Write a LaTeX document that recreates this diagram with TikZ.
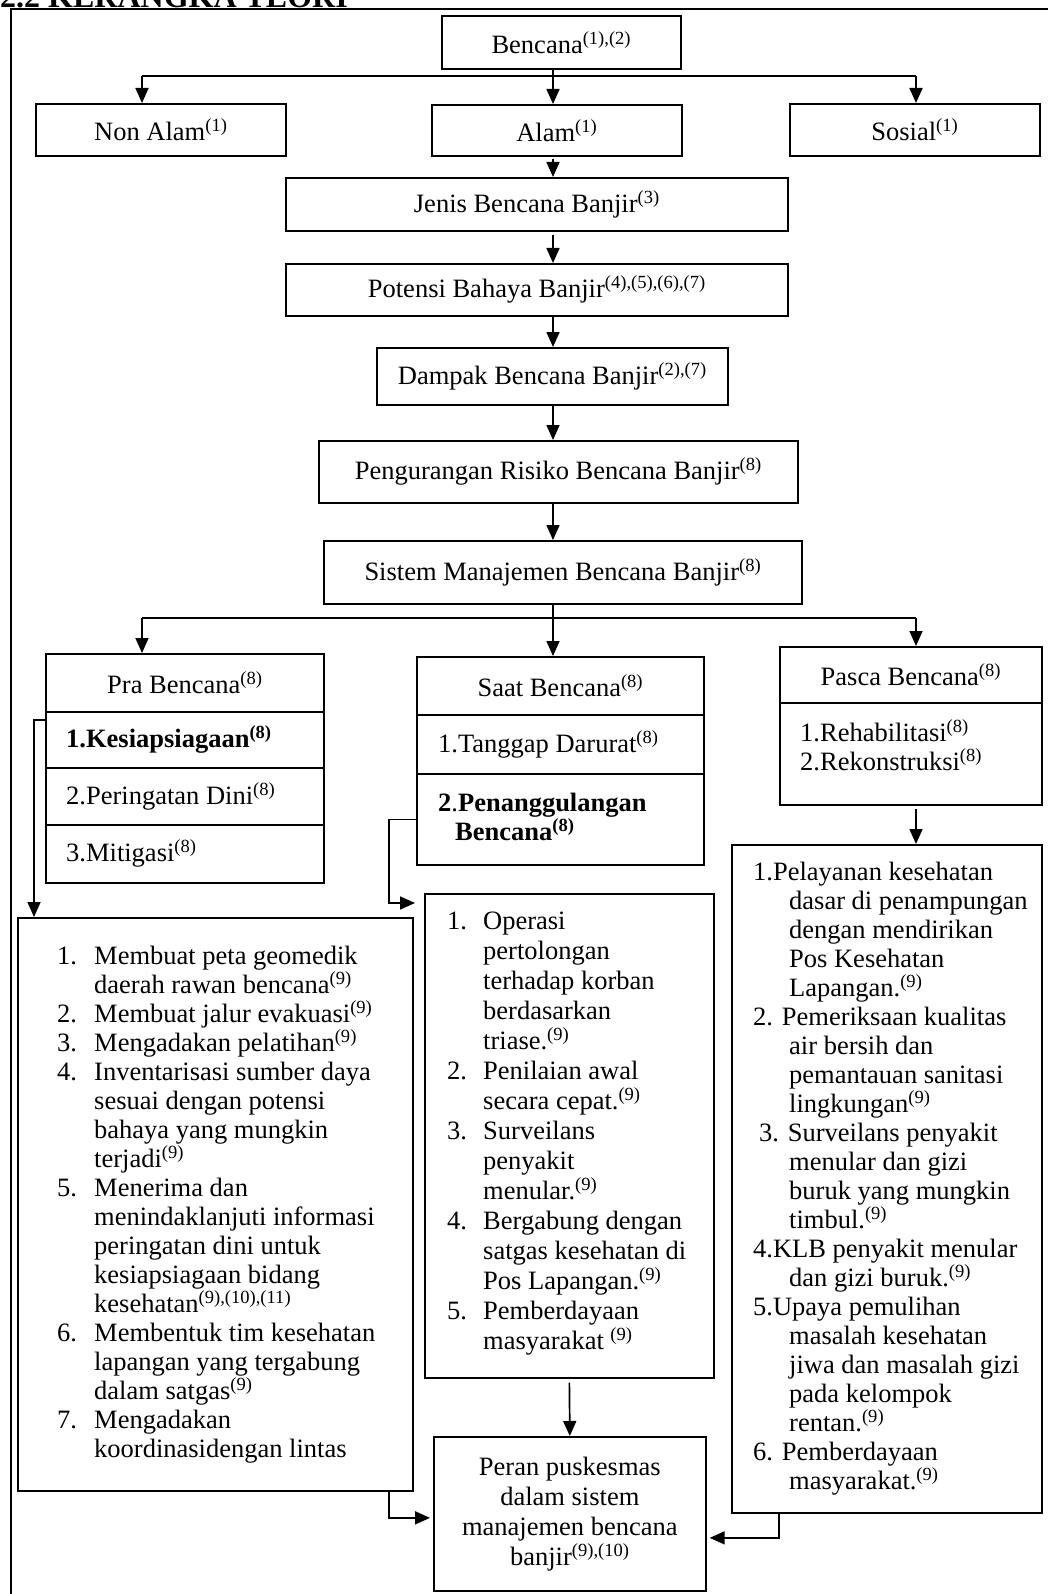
\documentclass[tikz,border=0pt]{standalone}
\usepackage{fontspec}
\setmainfont{Liberation Serif}
\usetikzlibrary{arrows.meta,calc}
\newcommand\fz{\fontsize{26.5}{29}\selectfont}
\newcommand\rf[1]{\textsuperscript{#1}}
\newcommand\lstno[1]{\makebox[37pt][l]{#1}}
\newcommand\lstin{\hspace*{37pt}}
\newcommand\rno[1]{\makebox[36pt][l]{#1}}
\newcommand\rin{\hspace*{36pt}}
\begin{document}
\begin{tikzpicture}[x=1pt,y=-1pt,
  box/.style={draw, line width=1.7pt, inner sep=0pt, anchor=north west, font=\fz, align=center},
  txt/.style={anchor=west, inner sep=0pt, font=\fz, align=left},
  conn/.style={line width=1.7pt},
  arr/.style={conn, -{Triangle[length=15pt,width=13pt]}},
]
\useasboundingbox (0,0) rectangle (1048,1594);
\fill[white] (0,0) rectangle (1048,1594);

% title and frame
\node[anchor=base west, inner sep=0pt, font=\bfseries\fontsize{32}{36}\selectfont] (title) at (0,8) {2.2 KERANGKA TEORI};
\draw[line width=1.7pt] (11,1600) -- (11,9) -- (1060,9);

% top chain
\node[box, minimum width=239pt, minimum height=53pt] (bencana) at (441,15) {Bencana\rf{(1),(2)}};
\node[box, minimum width=250pt, minimum height=52pt] (nonalam) at (35,103) {Non Alam\rf{(1)}};
\node[box, minimum width=250pt, minimum height=51pt] (alam) at (431,104) {Alam\rf{(1)}};
\node[box, minimum width=250pt, minimum height=52pt] (sosial) at (789,103) {Sosial\rf{(1)}};
\node[box, minimum width=502pt, minimum height=53pt] (jenis) at (285,177) {Jenis Bencana Banjir\rf{(3)}};
\node[box, minimum width=502pt, minimum height=52pt] (potensi) at (285,263) {Potensi Bahaya Banjir\rf{(4),(5),(6),(7)}};
\node[box, minimum width=351pt, minimum height=57pt] (dampak) at (376,347) {Dampak Bencana Banjir\rf{(2),(7)}};
\node[box, minimum width=479pt, minimum height=62pt] (pengurangan) at (318,440) {Pengurangan Risiko Bencana Banjir\rf{(8)}};
\node[box, minimum width=478pt, minimum height=63pt] (sistem) at (323,540) {Sistem Manajemen Bencana Banjir\rf{(8)}};

% Pra Bencana
\node[box, minimum width=278pt, minimum height=58pt] (pra0) at (45,653) {Pra Bencana\rf{(8)}};
\node[box, minimum width=278pt, minimum height=56pt] (pra1) at (45,711) {};
\node[box, minimum width=278pt, minimum height=57pt] (pra2) at (45,767) {};
\node[box, minimum width=278pt, minimum height=58pt] (pra3) at (45,824) {};
\node[txt] (pra1t) at ($(pra1.west)+(21,0)$) {\bfseries 1.Kesiapsiagaan\rf{(8)}};
\node[txt] (pra2t) at ($(pra2.west)+(21,0)$) {2.Peringatan Dini\rf{(8)}};
\node[txt] (pra3t) at ($(pra3.west)+(21,0)$) {3.Mitigasi\rf{(8)}};

% Saat Bencana
\node[box, minimum width=287pt, minimum height=58pt] (saat0) at (416,656) {Saat Bencana\rf{(8)}};
\node[box, minimum width=287pt, minimum height=59pt] (saat1) at (416,714) {};
\node[box, minimum width=287pt, minimum height=91pt] (saat2) at (416,773) {};
\node[txt] (saat1t) at ($(saat1.west)+(22,0)$) {1.Tanggap Darurat\rf{(8)}};
\node[txt] (saat2t) at ($(saat2.west)+(22,-2)$) {\textbf{2}.\textbf{Penanggulangan}\\\hspace*{17pt}\textbf{Bencana\rf{(8)}}};

% Pasca Bencana
\node[box, minimum width=262pt, minimum height=56pt] (pasca0) at (779,646) {Pasca Bencana\rf{(8)}};
\node[box, minimum width=262pt, minimum height=102pt] (pasca1) at (779,702) {};
\node[txt, anchor=north west] (pasca1t) at ($(pasca1.north west)+(21,17)$) {1.Rehabilitasi\rf{(8)}\\2.Rekonstruksi\rf{(8)}};

% list boxes
\node[box, minimum width=395pt, minimum height=573pt] (lbox) at (17,917) {};
\node[txt] (lboxt) at ($(lbox.west)+(40,0)$) {%
\lstno{1.}Membuat peta geomedik\\
\lstin daerah rawan bencana\rf{(9)}\\
\lstno{2.}Membuat jalur evakuasi\rf{(9)}\\
\lstno{3.}Mengadakan pelatihan\rf{(9)}\\
\lstno{4.}Inventarisasi sumber daya\\
\lstin sesuai dengan potensi\\
\lstin bahaya yang mungkin\\
\lstin terjadi\rf{(9)}\\
\lstno{5.}Menerima dan\\
\lstin menindaklanjuti informasi\\
\lstin peringatan dini untuk\\
\lstin kesiapsiagaan bidang\\
\lstin kesehatan\rf{(9),(10),(11)}\\
\lstno{6.}Membentuk tim kesehatan\\
\lstin lapangan yang tergabung\\
\lstin dalam satgas\rf{(9)}\\
\lstno{7.}Mengadakan\\
\lstin koordinasidengan lintas};

\node[box, minimum width=289pt, minimum height=484pt] (mbox) at (424,893) {};
\node[txt, font={\fontsize{26.5}{30}\selectfont}] (mboxt) at ($(mbox.west)+(23,-2)$) {%
\rno{1.}Operasi\\
\rin pertolongan\\
\rin terhadap korban\\
\rin berdasarkan\\
\rin triase.\rf{(9)}\\
\rno{2.}Penilaian awal\\
\rin secara cepat.\rf{(9)}\\
\rno{3.}Surveilans\\
\rin penyakit\\
\rin menular.\rf{(9)}\\
\rno{4.}Bergabung dengan\\
\rin satgas kesehatan di\\
\rin Pos Lapangan.\rf{(9)}\\
\rno{5.}Pemberdayaan\\
\rin masyarakat \rf{(9)}};

\node[box, minimum width=310pt, minimum height=668pt] (rbox) at (731,844) {};
\node[txt] (rboxt) at ($(rbox.west)+(22,0)$) {%
1.Pelayanan kesehatan\\
\rin dasar di penampungan\\
\rin dengan mendirikan\\
\rin Pos Kesehatan\\
\rin Lapangan.\rf{(9)}\\
2. Pemeriksaan kualitas\\
\rin air bersih dan\\
\rin pemantauan sanitasi\\
\rin lingkungan\rf{(9)}\\
\hspace*{6pt}3. Surveilans penyakit\\
\rin menular dan gizi\\
\rin buruk yang mungkin\\
\rin timbul.\rf{(9)}\\
4.KLB penyakit menular\\
\rin dan gizi buruk.\rf{(9)}\\
5.Upaya pemulihan\\
\rin masalah kesehatan\\
\rin jiwa dan masalah gizi\\
\rin pada kelompok\\
\rin rentan.\rf{(9)}\\
6. Pemberdayaan\\
\rin masyarakat.\rf{(9)}};

\node[box, minimum width=272pt, minimum height=154pt, font={\fontsize{26.5}{30}\selectfont}] (peran) at (433,1436) {Peran puskesmas\\dalam sistem\\manajemen bencana\\banjir\rf{(9),(10)}};

% connectors
\coordinate (trunk) at (553,0);
\coordinate (l1) at (142,76);
\coordinate (r1) at (916,76);
\coordinate (l2) at (142,618);
\coordinate (r2) at (916,618);

\draw[arr] (trunk |- bencana.south) -- (trunk |- alam.north);
\draw[conn] (l1) -- (r1);
\draw[arr] (l1) -- (l1 |- nonalam.north);
\draw[arr] (r1) -- (r1 |- sosial.north);
\draw[arr] ($(trunk |- alam.south)+(0,2)$) -- (trunk |- jenis.north);
\draw[arr] ($(trunk |- jenis.south)+(0,3)$) -- (trunk |- potensi.north);
\draw[arr] (trunk |- potensi.south) -- (trunk |- dampak.north);
\draw[arr] (trunk |- dampak.south) -- (trunk |- pengurangan.north);
\draw[arr] (trunk |- pengurangan.south) -- (trunk |- sistem.north);
\draw[arr] (trunk |- sistem.south) -- (trunk |- saat0.north);
\draw[conn] (l2) -- (r2);
\draw[arr] (l2) -- (l2 |- pra0.north);
\draw[arr] (r2) -- (r2 |- pasca0.north);
\draw[arr] ($(r2 |- pasca1.south)+(0,3)$) -- (r2 |- rbox.north);

\draw[arr] ($(pra1.north west)+(0,9)$) -| ($(lbox.north west)+(17,0)$);
\draw[arr] (saat2.west) -- ++(-27,0) |- ($(mbox.north west)+(-9,10)$);
\draw[arr] ($(mbox.south)+(0,4)$) -- (peran.north);
\draw[arr] ($(lbox.south east)+(-25,0)$) |- ($(peran.west)+(-3,4)$);
\draw[arr] ($(rbox.south west)+(48,0)$) |- ($(peran.east)+(3,24)$);
\end{tikzpicture}
\end{document}
